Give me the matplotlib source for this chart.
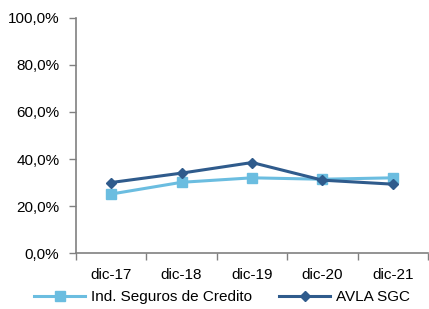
import matplotlib.pyplot as plt
import numpy as np

# Datos
categorias = ["dic-17", "dic-18", "dic-19", "dic-20", "dic-21"]
ind_seguros = [25.1, 30.1, 32.0, 31.4, 32.0]
avla_sgc = [30.0, 34.0, 38.5, 31.0, 29.3]
y_ticks = [0, 20, 40, 60, 80, 100]

plt.rcParams['font.family'] = ['Liberation Sans', 'DejaVu Sans']
fs = 11

fig = plt.figure(figsize=(4.29, 3.09), dpi=100)
ax = fig.add_axes([0.177, 0.181, 0.821, 0.761])

x = np.arange(len(categorias))
ax.plot(x, ind_seguros, color='#6bbde0', lw=2.2, marker='s', ms=7,
        label='Ind. Seguros de Credito')
ax.plot(x, avla_sgc, color='#2f5b8c', lw=2.2, marker='D', ms=5.5,
        label='AVLA SGC')

ax.set_xlim(-0.5, len(categorias) - 0.5)
ax.set_ylim(0, 100)
ax.set_yticks(y_ticks)
ax.set_yticklabels(["{:.1f}%".format(v).replace('.', ',') for v in y_ticks])

# ticks del eje x entre categorias
ax.set_xticks(np.arange(-0.5, len(categorias), 1.0))
ax.set_xticklabels([])
ax.set_xticks(x, minor=True)
ax.set_xticklabels(categorias, minor=True)
ax.tick_params(axis='x', which='minor', length=0, pad=11, labelsize=fs)
ax.tick_params(axis='x', which='major', length=5, color='#808080', width=1)
ax.tick_params(axis='y', length=5, color='#808080', width=1, labelsize=fs, pad=7)

for s in ['top', 'right']:
    ax.spines[s].set_visible(False)
for s in ['left', 'bottom']:
    ax.spines[s].set_color('#808080')
    ax.spines[s].set_linewidth(1.2)

ax.legend(loc='upper center', bbox_to_anchor=(0.415, -0.158), ncol=2, frameon=False,
          fontsize=fs, handlelength=3.3, columnspacing=1.8, handletextpad=0.4,
          borderaxespad=0, borderpad=0)

fig.savefig('out.png', dpi=100)
